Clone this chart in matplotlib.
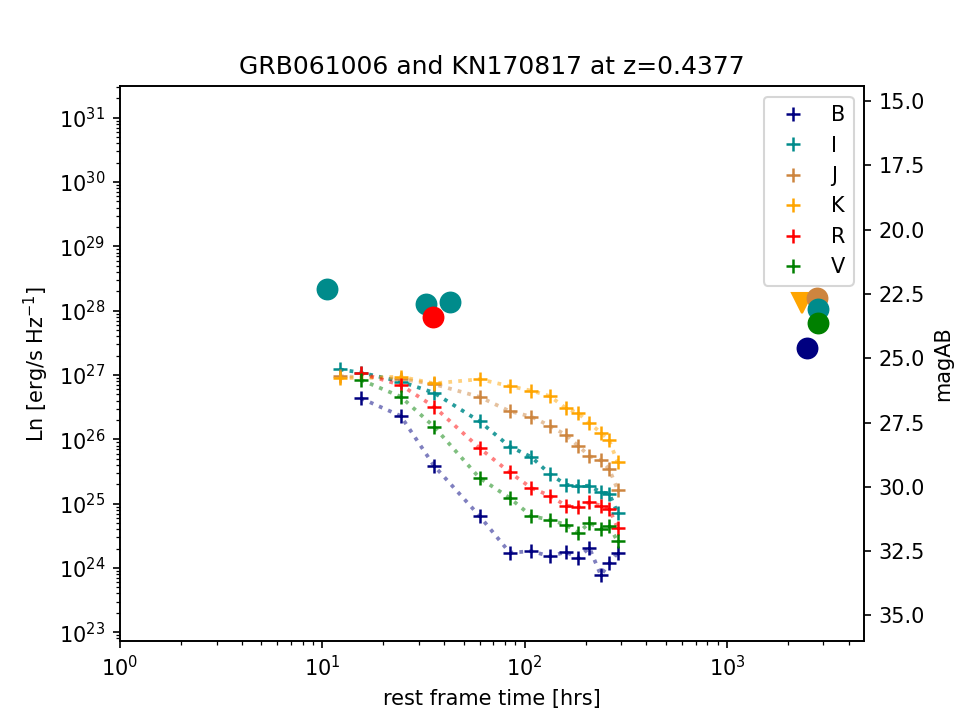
"""GRB061006 afterglow points and KN170817 light curves shifted to z=0.4377."""

import numpy as np
import matplotlib.pyplot as plt

z = 0.4377

# rest frame times [hrs] for the kilonova light curves
t_kn = [12.2, 15.5, 24.4, 35.6, 59.9, 84.5, 108, 133, 160, 184, 209, 238, 262, 288]

# luminosity density [erg/s/Hz] per band
kn_B_t = t_kn[1:]
kn_B = [4.35e26, 2.31e26, 3.9e25, 6.4e24, 1.72e24, 1.82e24, 1.52e24,
        1.76e24, 1.44e24, 2.06e24, 7.7e23, 1.17e24, 1.72e24]
kn_I_t = t_kn
kn_I = [1.22e27, 1.09e27, 7.9e26, 5.3e26, 1.9e26, 7.7e25, 5.3e25, 2.9e25,
        1.97e25, 1.86e25, 1.9e25, 1.5e25, 1.43e25, 7.2e24]
kn_J_t = [t_kn[0]] + t_kn[2:]
kn_J = [9.6e26, 8.7e26, 7.2e26, 4.56e26, 2.73e26, 2.25e26, 1.62e26,
        1.17e26, 7.9e25, 5.5e25, 4.7e25, 3.45e25, 1.65e25]
kn_K_t = [t_kn[0]] + t_kn[2:]
kn_K = [8.9e26, 9.4e26, 7.4e26, 8.6e26, 6.7e26, 5.7e26, 4.7e26,
        3.05e26, 2.55e26, 1.78e26, 1.27e26, 9.6e25, 4.4e25]
kn_R_t = t_kn[1:]
kn_R = [1.06e27, 7.0e26, 3.23e26, 7.3e25, 3.05e25, 1.75e25, 1.33e25,
        9.3e24, 8.9e24, 1.05e25, 9.3e24, 8.3e24, 4.2e24]
kn_V_t = t_kn[1:]
kn_V = [8.4e26, 4.6e26, 1.58e26, 2.5e25, 1.22e25, 6.4e24, 5.6e24,
        4.7e24, 3.5e24, 5.0e24, 4.05e24, 4.45e24, 2.6e24]

# GRB061006 afterglow detections
grb_I_t = [10.5, 32.6, 42.9, 2812]
grb_I = [2.21e28, 1.29e28, 1.37e28, 1.08e28]
grb_R_t = [35.4]
grb_R = [8.0e27]
grb_K_t = [2344]
grb_K = [1.31e28]
grb_J_t = [2780]
grb_J = [1.55e28]
grb_V_t = [2812]
grb_V = [6.5e27]
grb_B_t = [2481]
grb_B = [2.6e27]

colors = {"B": "navy", "I": "darkcyan", "J": "peru",
          "K": "orange", "R": "red", "V": "green"}


def lum_to_mag(L):
    # 4 pi dL^2 / (1+z) in cm^2, log10
    log_area = 56.70
    return -2.5 * (np.log10(L) - log_area) - 48.6


fig, ax = plt.subplots(figsize=(6.4, 4.8), dpi=150)

kn = {"B": (kn_B_t, kn_B), "I": (kn_I_t, kn_I), "J": (kn_J_t, kn_J),
      "K": (kn_K_t, kn_K), "R": (kn_R_t, kn_R), "V": (kn_V_t, kn_V)}
for band, (t, L) in kn.items():
    c = colors[band]
    line_alpha = 0.85 if band == "I" else 0.5
    ax.plot(t, L, ls=":", lw=1.8, color=c, alpha=line_alpha)
    ax.plot(t, L, ls="", marker="+", ms=7, mew=1.2, color=c, label=band)

ax.plot(grb_I_t[:3], grb_I[:3], "o", ms=9.5, color=colors["I"])
ax.plot(grb_R_t, grb_R, "o", ms=9.5, color=colors["R"])
ax.plot(grb_K_t, grb_K, "v", ms=9.5, color=colors["K"])
ax.plot(grb_J_t, grb_J, "o", ms=9.5, color=colors["J"])
ax.plot(grb_I_t[3:], grb_I[3:], "o", ms=9.5, color=colors["I"])
ax.plot(grb_V_t, grb_V, "o", ms=9.5, color=colors["V"])
ax.plot(grb_B_t, grb_B, "o", ms=9.5, color=colors["B"])

ax.set_xscale("log")
ax.set_yscale("log")
ax.set_xlim(1, 4760)
ylim = (10**22.866, 10**31.488)
ax.set_ylim(ylim)
ax.set_xlabel("rest frame time [hrs]")
ax.set_ylabel("Ln [erg/s Hz$^{-1}$]")
ax.set_title("GRB061006 and KN170817 at z=" + str(z))
ax.legend(loc="upper right")

ax2 = ax.twinx()
ax2.set_ylim(lum_to_mag(ylim[0]), lum_to_mag(ylim[1]))
ax2.set_ylabel("magAB")

fig.savefig("out.png", dpi=150)
